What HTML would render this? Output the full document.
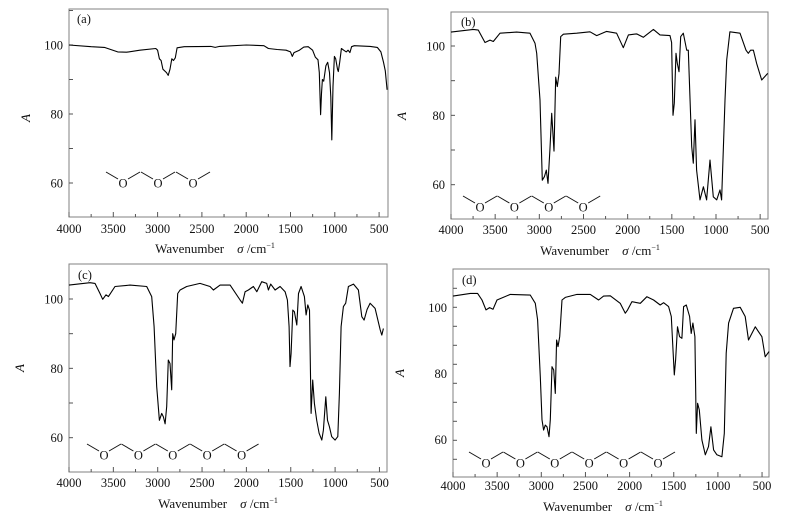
<!DOCTYPE html>
<html><head><meta charset="utf-8"><style>
body{margin:0;background:#fff;}
svg{display:block;font-family:"Liberation Serif",serif;}
</style></head><body>
<svg id="fig" width="785" height="529" viewBox="0 0 785 529"></svg>
<script>
// Panel (a) data
const aWn=[4000,3750,3600,3450,3350,3200,3020,3000,2980,2960,2940,2900,2880,2860,2840,2820,2800,2780,2700,2400,2350,2300,2000,1800,1750,1650,1550,1500,1480,1460,1400,1350,1300,1250,1220,1190,1175,1160,1150,1140,1125,1100,1080,1060,1045,1034,1020,1005,990,970,960,945,925,900,870,850,830,810,780,600,520,480,450,430,410];
const aVal=[100,99.5,99.3,98,97.9,98.5,99,98.5,96,95.5,93,92,91.2,93,96,95.5,96.3,99.2,99.5,99.6,99.3,99.6,100,99.8,99,98.7,98.5,98,96.7,97.8,98.5,99.4,99.5,98.5,96.5,95.7,92,79.8,86,90,89.5,94,95,92,85,72.5,88,96.7,96,93,92.3,95,99,98.5,98,98.5,97.8,99.5,99.8,99.6,99.3,98,95,92.5,87];
// Panel (b) data
const bWn=[4000,3747,3691,3615,3558,3521,3445,3257,3106,3049,3030,2992,2966,2943,2921,2902,2880,2860,2834,2815,2796,2777,2758,2728,2577,2426,2351,2238,2125,2049,1992,1898,1823,1709,1634,1521,1502,1487,1472,1453,1438,1419,1400,1370,1332,1313,1275,1257,1238,1219,1181,1143,1106,1068,1030,992,955,936,898,879,842,728,660,634,608,577,540,483,415];
const bVal=[104,104.8,104.6,101,101.7,101.3,103.7,104,103.7,100.8,97.9,84.4,61.3,62.3,64.2,60.4,70,80.6,69.7,91,88.3,92,102.7,103.4,103.7,104.1,103,104.2,103.7,99.5,103.2,103.5,102.5,104.8,103.2,103,101,80,83.5,97.9,95,92.6,102.7,103.7,98.8,98.8,71,66.2,78.7,64.2,55.6,59.4,55.6,67.1,56.5,55.6,58.5,55.6,84.4,96,104.1,103.7,98.8,97.9,98.8,98.8,95,90.2,92.1];
// Panel (c) data
const cWn=[4000,3763,3707,3650,3620,3583,3556,3481,3312,3124,3068,3041,3011,2981,2955,2936,2917,2898,2880,2861,2842,2831,2816,2797,2774,2748,2673,2523,2410,2372,2297,2184,2071,2045,2015,1977,1921,1883,1827,1771,1752,1726,1677,1620,1564,1538,1519,1508,1496,1477,1459,1432,1413,1383,1346,1327,1308,1289,1271,1252,1233,1207,1180,1150,1132,1105,1086,1064,1038,1000,970,951,932,906,880,850,793,737,699,673,639,605,549,492,474,455];
const cVal=[104,104.7,104.5,101.6,99.9,101.2,100.7,103.6,104,103.6,100.7,92,74.7,65,67,66,64,69,82.4,81.4,73.8,90,88.2,90,101.6,102.6,103.6,104.5,103.6,102.6,104,104,99.7,98.8,102.1,102.6,103.6,102.1,105,104.5,102.6,104.3,102.6,103.6,102.1,99.7,92,80.5,84.3,96.8,96.3,92.5,101.6,103.6,100.7,95.4,98.3,96.8,67,76.6,69.9,65,61.3,59.3,62.2,71.8,65,63.2,60.3,59.3,60.3,72.8,92,97.8,98.8,103.6,104.3,102.6,94.9,93.9,97,98.8,97.3,91.1,89.6,91.5];
// Panel (d) data
const dWn=[4000,3804,3721,3672,3626,3585,3547,3502,3351,3125,3068,3042,3011,2992,2974,2955,2936,2913,2898,2879,2860,2842,2827,2811,2792,2766,2728,2596,2445,2351,2294,2219,2106,2049,2023,1974,1879,1804,1728,1653,1615,1558,1528,1509,1494,1479,1457,1434,1408,1389,1358,1321,1302,1283,1260,1245,1230,1211,1181,1143,1106,1079,1049,1011,955,928,906,879,823,747,691,653,615,577,540,502,464,420];
const dVal=[103.4,104.2,104.2,102.2,99.2,99.9,99.4,102.2,103.9,103.7,101.2,96.2,79,65.9,62.8,64.3,63.8,60.8,65.9,82,81,73.9,90.1,88.1,91.1,102.2,103,103.9,103.9,102.2,103.4,103.5,101.2,98.2,99.2,101.7,101.2,103.2,102.2,100.7,101.4,100.2,97.2,87.1,79.5,84,94.1,91.1,90.6,100.2,100.7,97.2,92.1,95.2,91.1,61.8,70.9,68.9,59.8,55.3,57.8,63.8,56.8,55.3,54.7,61.8,86.1,95.2,99.7,100,97.2,90.1,92.1,94.1,92.6,91.1,85,86.6];
// Axis tick labels
const xTickLabels=[4000,3500,3000,2500,2000,1500,1000,500];
const yTickLabels=[100,80,60];

const NS="http://www.w3.org/2000/svg";
const svg=document.getElementById('fig');
function mk(tag,attrs,parent){const e=document.createElementNS(NS,tag);for(const k in attrs)e.setAttribute(k,attrs[k]);(parent||svg).appendChild(e);return e;}

const panels=[
 {id:'a',wn:aWn,val:aVal,x0:69,x1:388,y0:9,y1:217,y100:45,ppu:3.45,xs:0.0886,vmin:50,vmax:110,tickPx:34.5,lblX:77,lblY:23,tlY:233,ttlY:253,ttlCx:215,aX:30,aY:118,mol:{ox:123,oy:183,n:3}},
 {id:'b',wn:bWn,val:bVal,x0:451,x1:768,y0:12,y1:219,y100:46,ppu:3.467,xs:0.08833,vmin:50,vmax:110,tickPx:34.67,lblX:461,lblY:26,tlY:234,ttlY:255,ttlCx:600,aX:406,aY:116,mol:{ox:480,oy:207,n:4}},
 {id:'c',wn:cWn,val:cVal,x0:69,x1:387,y0:264,y1:472,y100:299,ppu:3.467,xs:0.0887,vmin:50,vmax:110,tickPx:34.67,lblX:78,lblY:279,tlY:487,ttlY:508,ttlCx:218,aX:24,aY:368,mol:{ox:104,oy:455,n:5}},
 {id:'d',wn:dWn,val:dVal,x0:453,x1:769,y0:269,y1:477,y100:307.3,ppu:3.3,xs:0.0883,vmin:50,vmax:112,tickPx:19,lblX:462,lblY:284,tlY:490,ttlY:511,ttlCx:603,aX:404,aY:373,mol:{ox:486,oy:463,n:6}}
];

panels.forEach(p=>{
  const g=mk('g',{});
  
  
  const X=w=>p.x0+(4000-w)*p.xs;
  const Y=v=>p.y100+(100-v)*p.ppu;
  const box=mk('rect',{x:p.x0,y:p.y0,width:p.x1-p.x0,height:p.y1-p.y0,fill:'none',stroke:'#808080','stroke-width':1},g);
  
  
  // x ticks
  for(let w=4000;w>=500;w-=250){
    const major=(w%500===0);
    const t=mk('line',{x1:X(w),x2:X(w),y1:p.y1,y2:p.y1-(major?5:3),stroke:'#555','stroke-width':1},g);
    
    
  }
  xTickLabels.forEach(w=>{
    const t=mk('text',{x:X(w),y:p.tlY,'text-anchor':'middle','font-size':12.5,fill:'#111'},g);
    t.textContent=w;
    
    
  });
  // y ticks (pixel spacing)
  for(let y=p.y100-Math.floor((p.y100-p.y0)/p.tickPx)*p.tickPx;y<p.y1;y+=p.tickPx){
    if(y<=p.y0+1)continue;
    const t=mk('line',{x1:p.x0,x2:p.x0+4,y1:y,y2:y,stroke:'#555','stroke-width':1},g);
    
    
  }
  yTickLabels.forEach(v=>{
    const t=mk('text',{x:p.x0-6,y:Y(v)+4.5,'text-anchor':'end','font-size':12.5,fill:'#111'},g);
    t.textContent=v;
    
    
  });
  // axis titles
  const yt=mk('text',{x:p.aX,y:p.aY,'text-anchor':'middle','font-size':13,'font-style':'italic',fill:'#111',transform:`rotate(-90 ${p.aX} ${p.aY})`},g);
  yt.textContent='A';
  
  
  const xt=mk('text',{x:p.ttlCx,y:p.ttlY,'text-anchor':'middle','font-size':13,fill:'#111'},g);
  xt.innerHTML='Wavenumber\u00a0\u00a0\u00a0\u00a0<tspan font-style="italic">σ</tspan> /cm<tspan font-size="8" dy="-5">−1</tspan>';
  
  
  // panel label
  const pl=mk('text',{x:p.lblX,y:p.lblY,'font-size':12.5,fill:'#111'},g);
  pl.textContent='('+p.id+')';
  
  
  // spectrum
  let d='';
  p.wn.forEach((w,i)=>{const v=Math.max(p.vmin,Math.min(p.vmax,p.val[i]));d+=(i?'L':'M')+X(w).toFixed(1)+' '+Y(v).toFixed(1);});
  const path=mk('path',{d:d,fill:'none',stroke:'#000','stroke-width':1.1,'stroke-linejoin':'round'},g);
  
  
  // molecule structure
  const m=mk('g',{},g);
  
  
  const step=(p.id==='a')?35:34.4;
  for(let i=0;i<p.mol.n;i++){
    const ox=p.mol.ox+i*step, oy=p.mol.oy;
    mk('line',{x1:ox-17,y1:oy-11,x2:ox-5,y2:oy-4,stroke:'#111','stroke-width':1},m);
    mk('line',{x1:ox+5,y1:oy-4,x2:ox+17,y2:oy-11,stroke:'#111','stroke-width':1},m);
    const o=mk('text',{x:ox,y:oy+4.5,'text-anchor':'middle','font-size':12.5,fill:'#111'},m);
    o.textContent='O';
    
    
  }
});
</script>
</body></html>
